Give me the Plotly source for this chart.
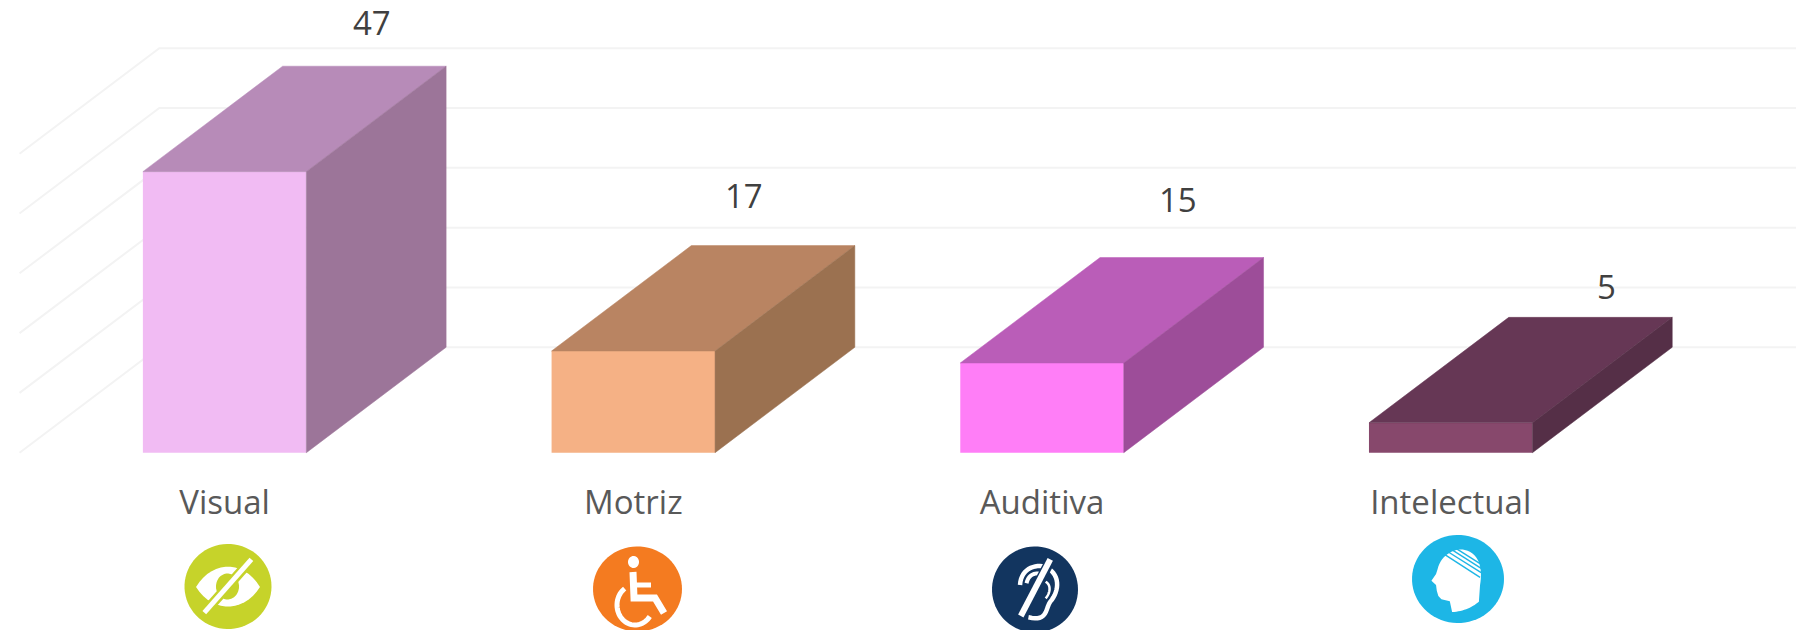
import numpy as np
import plotly.graph_objects as go

# ---- data ----
categories = ["Visual", "Motriz", "Auditiva", "Intelectual"]
values = [47, 17, 15, 5]
grid_values = [0, 10, 20, 30, 40, 50]

# ---- styles ----
front_colors = ["#F1BBF3", "#F5B185", "#FF7EF7", "#87486C"]
top_colors = ["#B78BB8", "#B98462", "#BA5DB8", "#663755"]
side_colors = ["#9C7599", "#9B7150", "#9D4D99", "#552F47"]
label_shift_x = [8, -29, -4, 16]
label_shift_y = [44, 50, 58, 31]

W, H = 1803, 630
BAR_W = 0.4
DX, DY = 0.342, 17.63          # oblique depth, in axis units
X_RANGE = [-0.5496, 3.862]
Y_RANGE = [-29.65, 75.7]
GRID_L, GRID_R = -0.5018, 3.845

fig = go.Figure()
xs = list(range(len(categories)))

# front faces
fig.add_trace(go.Bar(x=xs, y=values, width=BAR_W, marker=dict(color=front_colors, line=dict(width=0)),
                     hoverinfo="skip", showlegend=False))

# top and side faces
for x, v, tc, sc in zip(xs, values, top_colors, side_colors):
    l, r = x - BAR_W / 2, x + BAR_W / 2
    fig.add_trace(go.Scatter(x=[l, r, r + DX, l + DX, l], y=[v, v, v + DY, v + DY, v], mode="lines",
                             fill="toself", fillcolor=tc, line=dict(color=tc, width=0.5),
                             hoverinfo="skip", showlegend=False))
    fig.add_trace(go.Scatter(x=[r, r + DX, r + DX, r, r], y=[0, DY, v + DY, v, 0], mode="lines",
                             fill="toself", fillcolor=sc, line=dict(color=sc, width=0.5),
                             hoverinfo="skip", showlegend=False))

shapes = []
# gridlines: floor-wall oblique part + back wall
for g in grid_values:
    shapes.append(dict(type="path", layer="below", xref="x", yref="y",
                       path=f"M {GRID_L} {g} L {GRID_L + DX} {g + DY} L {GRID_R} {g + DY}",
                       line=dict(color="#F3F3F3", width=2)))

# ---- icons (decoration, drawn in pixel space mapped to paper) ----
def P(px, py):
    return f"{px / W:.5f} {1 - py / H:.5f}"

def path(pts, close=False):
    return "M " + " L ".join(P(*p) for p in pts) + (" Z" if close else "")

def ell(cx, cy, rx, ry, a0=0, a1=360, n=72):
    t = np.radians(np.linspace(a0, a1, n))
    return [(cx + rx * np.cos(a), cy + ry * np.sin(a)) for a in t]

def bez(p0, p1, p2, p3, n=16):
    t = np.linspace(0, 1, n)
    return [tuple((1-u)**3*np.array(p0) + 3*(1-u)**2*u*np.array(p1) + 3*(1-u)*u*u*np.array(p2) + u**3*np.array(p3)) for u in t]

def fill(pts, color):
    shapes.append(dict(type="path", xref="paper", yref="paper", path=path(pts, True),
                       fillcolor=color, line=dict(width=0), layer="above"))

def stroke(pts, color, width):
    shapes.append(dict(type="path", xref="paper", yref="paper", path=path(pts),
                       line=dict(color=color, width=width), layer="above"))

# Visual
GREEN = "#C6D32A"
fill(ell(228, 586.5, 43.5, 42.5), GREEN)
fill(bez((196, 587), (212, 560), (244, 560), (260, 587)) + bez((260, 587), (244, 613), (212, 613), (196, 587)), "#FFFFFF")
fill(ell(227.5, 586.5, 11.5, 13), GREEN)
stroke([(252, 559), (204, 613)], GREEN, 10)
stroke([(251.4, 559.3), (204.3, 612.7)], "#FFFFFF", 5)

# Motriz
ORANGE = "#F47B20"
fill(ell(637.5, 589, 44.5, 42.5), ORANGE)
fill(ell(633.5, 562, 5.5, 6), "#FFFFFF")
stroke([(633, 572), (634, 598), (655, 598), (664, 613)], "#FFFFFF", 7)
stroke([(634, 585), (651, 585)], "#FFFFFF", 5)
stroke(ell(635, 605, 18, 20, 235, 35, 40), "#FFFFFF", 5)

# Auditiva
NAVY = "#12355F"
fill(ell(1035, 589.5, 43, 43), NAVY)
Z = lambda zx, zy: (950 + zx / 2.613, 470 + zy / 3)
outer = (bez(Z(183, 345), Z(185, 295), Z(225, 280), Z(252, 292))
         + bez(Z(252, 292), Z(290, 315), Z(285, 365), Z(262, 395))
         + bez(Z(262, 395), Z(248, 420), Z(255, 455), Z(205, 442)))
stroke(outer, "#FFFFFF", 4.5)
stroke(bez(Z(200, 340), Z(205, 310), Z(228, 305), Z(243, 315)), "#FFFFFF", 4)
stroke(bez(Z(250, 335), Z(265, 345), Z(262, 370), Z(250, 385)), "#FFFFFF", 2.5)
stroke([Z(264, 268), Z(185, 440)], NAVY, 10)
stroke([Z(262, 268), Z(185, 438)], "#FFFFFF", 6)

# Intelectual
BLUE = "#1DB6E6"
fill(ell(1458, 579, 46, 44), BLUE)
head = (bez(Z(1274, 298), Z(1282, 255), Z(1320, 232), Z(1345, 240))
        + bez(Z(1345, 240), Z(1385, 250), Z(1392, 300), Z(1385, 345))
        + [Z(1382, 395)]
        + bez(Z(1382, 395), Z(1365, 412), Z(1340, 425), Z(1312, 426))
        + [Z(1306, 394), Z(1284, 388), Z(1276, 378), Z(1272, 362), Z(1270, 345), Z(1258, 332), Z(1270, 312)])
fill(head, "#FFFFFF")
for a, b in [(Z(1288, 250), Z(1385, 322)), (Z(1298, 243), Z(1388, 308)),
             (Z(1310, 238), Z(1388, 295)), (Z(1323, 236), Z(1385, 281))]:
    stroke([a, b], BLUE, 1.4)

# data labels
annotations = [dict(x=x + DX, y=v + DY, xref="x", yref="y", text=str(v), showarrow=False,
                    xshift=sx, yshift=sy, font=dict(family="Open Sans", size=33, color="#404040"))
               for x, v, sx, sy in zip(xs, values, label_shift_x, label_shift_y)]

fig.update_layout(
    width=W, height=H, margin=dict(l=0, r=0, t=0, b=0, pad=0),
    paper_bgcolor="white", plot_bgcolor="white", showlegend=False,
    shapes=shapes, annotations=annotations,
    xaxis=dict(range=X_RANGE, tickmode="array", tickvals=xs, ticktext=categories,
               showgrid=False, zeroline=False, showline=False, ticks="",
               anchor="free", position=1 - 480 / H, automargin=False,
               tickfont=dict(family="Open Sans", size=33, color="#595959")),
    yaxis=dict(range=Y_RANGE, visible=False),
)
fig.write_html("out.html", config=dict(displayModeBar=False),
               post_script="document.body.style.margin='0';document.documentElement.style.overflow='hidden';")
